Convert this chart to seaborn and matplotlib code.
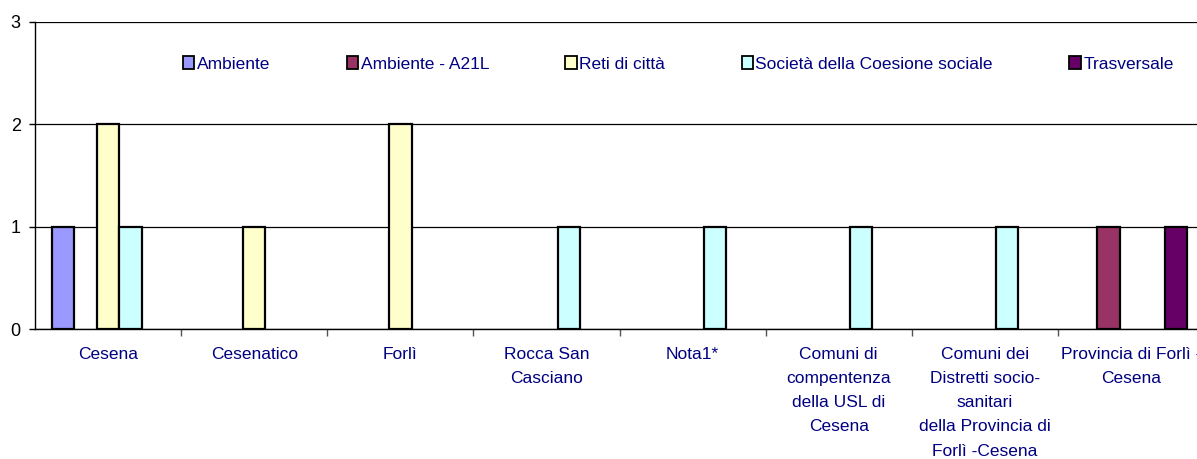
import pandas as pd
import matplotlib
matplotlib.use('Agg')
import matplotlib.pyplot as plt
from matplotlib.patches import Patch
from matplotlib.ticker import FixedLocator
import seaborn as sns

# Categories and series
categories = ['Cesena', 'Cesenatico', 'Forlì', 'Rocca San\nCasciano', 'Nota1*',
              'Comuni di\ncompentenza\ndella USL di\nCesena',
              'Comuni dei\nDistretti socio-\nsanitari\ndella Provincia di\nForlì -Cesena',
              'Provincia di Forlì -\nCesena']
series = ['Ambiente', 'Ambiente - A21L', 'Reti di città',
          'Società della Coesione sociale', 'Trasversale']
colors = ['#9999FF', '#993366', '#FFFFCC', '#CCFFFF', '#660066']

ambiente = [1, 0, 0, 0, 0, 0, 0, 0]
ambiente_a21l = [0, 0, 0, 0, 0, 0, 0, 1]
reti = [2, 1, 2, 0, 0, 0, 0, 0]
societa = [1, 0, 0, 1, 1, 1, 1, 0]
trasversale = [0, 0, 0, 0, 0, 0, 0, 1]

# Long form table
rows = []
for name, vals in zip(series, [ambiente, ambiente_a21l, reti, societa, trasversale]):
    for cat, v in zip(categories, vals):
        if v > 0:
            rows.append({'categoria': cat, 'serie': name, 'valore': v})
data = pd.DataFrame(rows)

sns.set_style('white')
plt.rcParams['font.family'] = ['Liberation Sans', 'DejaVu Sans']

fig = plt.figure(figsize=(11.97, 4.59), dpi=100)
ax = fig.add_axes([35 / 1197, 1 - 329 / 459, 1169 / 1197, 307 / 459])

sns.barplot(data=data, x='categoria', y='valore', hue='serie',
            order=categories, hue_order=series, palette=colors, saturation=1,
            width=0.766, gap=0, edgecolor='black', linewidth=1.6,
            legend=False, ax=ax, zorder=3)

ax.set_ylim(0, 3)
ax.set_xlim(-0.5, len(categories) - 0.5)
ax.set_yticks([0, 1, 2, 3])
ax.yaxis.grid(True, color='black', linewidth=0.9)
ax.set_axisbelow(True)

for s in ['top', 'right']:
    ax.spines[s].set_visible(False)
for s in ['left', 'bottom']:
    ax.spines[s].set_color('black')
    ax.spines[s].set_linewidth(1.0)

ax.set_xlabel('')
ax.set_ylabel('')
ax.tick_params(axis='y', length=4.3, width=1, color='black', pad=6, labelsize=13,
               labelcolor='black', left=True)
ax.tick_params(axis='x', which='major', length=0, pad=13, labelsize=12.5,
               labelcolor='#000080')
ax.xaxis.set_minor_locator(FixedLocator([i + 0.5 for i in range(len(categories) - 1)]))
ax.tick_params(axis='x', which='minor', length=5, width=1, color='#555555', bottom=True)
for lab in ax.get_xticklabels():
    lab.set_linespacing(1.76)
    lab.set_verticalalignment('top')

handles = [Patch(facecolor=c, edgecolor='black', linewidth=1.3, label=n)
           for n, c in zip(series, colors)]
leg = ax.legend(handles=handles, ncol=5, frameon=False, loc='center left',
                bbox_to_anchor=((183 - 35) / 1169, (329 - 64) / 307),
                fontsize=12.5, handlelength=0.65, handleheight=0.75,
                handletextpad=0.15, columnspacing=4.4, borderaxespad=0,
                borderpad=0)
for t in leg.get_texts():
    t.set_color('#000080')

fig.savefig('out.png', dpi=100)
